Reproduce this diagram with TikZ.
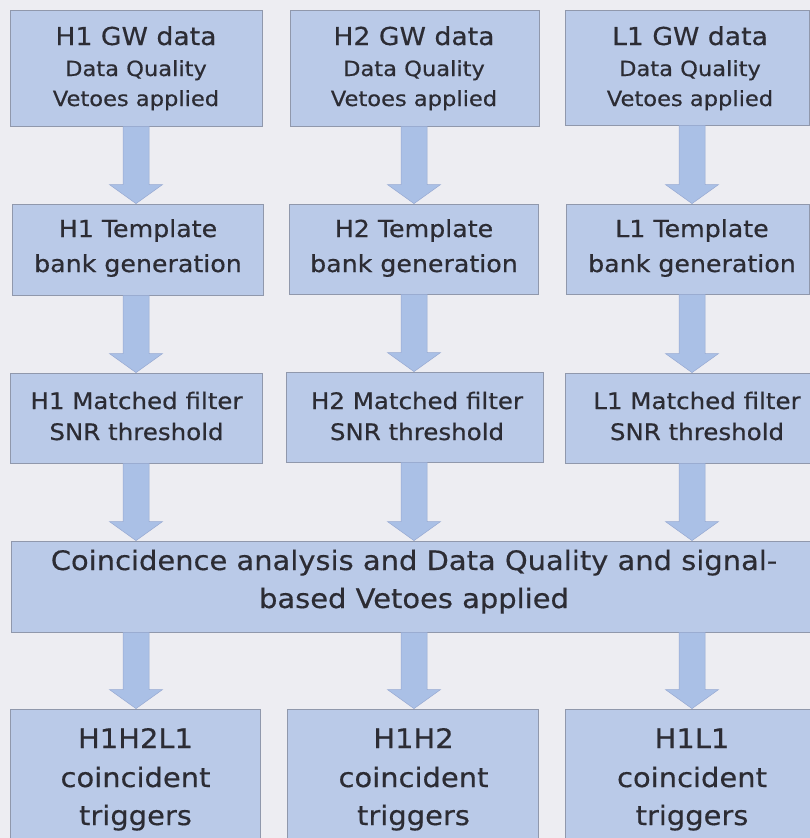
\documentclass[tikz,border=0pt]{standalone}
\usepackage{fontspec}
\setmainfont[FakeStretch=1.08,FakeBold=0.5]{DejaVu Sans}
\usetikzlibrary{calc}
\definecolor{bgcol}{HTML}{EDEDF2}
\definecolor{boxfill}{HTML}{BACAE8}
\definecolor{boxline}{HTML}{9098AC}
\definecolor{arrfill}{HTML}{AAC0E6}
\definecolor{arrline}{HTML}{97A9D2}
\definecolor{txtcol}{HTML}{2C2C34}
\tikzset{
  box/.style={rectangle, draw=boxline, fill=boxfill, line width=0.8pt, inner sep=0pt},
  ttl/.style={anchor=base, inner sep=0pt, text=txtcol, font=\fontsize{24.7}{28}\selectfont},
  dql/.style={anchor=base, inner sep=0pt, text=txtcol, font=\fontsize{20.9}{24}\selectfont},
  tpl/.style={anchor=base, inner sep=0pt, text=txtcol, font=\fontsize{23.4}{26}\selectfont},
  mfl/.style={anchor=base, inner sep=0pt, text=txtcol, font=\fontsize{22.7}{24}\selectfont},
  bgl/.style={anchor=base, inner sep=0pt, text=txtcol, font=\fontsize{26.8}{30}\selectfont},
  bigarrow/.style={fill=arrfill, draw=arrline, line width=0.5pt, line join=miter}
}
\newcommand\flowarrow[2]{%
  \path[bigarrow] let \p1=(#1), \p2=(#2) in
    (\x1-13pt,\y1) -- (\x1+13pt,\y1) -- (\x1+13pt,\y2+19pt) -- (\x1+26.5pt,\y2+19pt)
    -- (\x1,\y2) -- (\x1-26.5pt,\y2+19pt) -- (\x1-13pt,\y2+19pt) -- cycle;}
\begin{document}
\begin{tikzpicture}[x=1pt,y=1pt]
\useasboundingbox (0,0) rectangle (810,-838);
\clip (0,0) rectangle (810,-838);
\fill[bgcol] (0,0) rectangle (810,-838);
% column coordinates
\coordinate (c1) at (136,0);
\coordinate (c2) at (414,0);
\coordinate (c3) at (692,0);
% row 1
\node[box, minimum width=252, minimum height=116] (h1d) at (136,-68) {};
\node[box, minimum width=249, minimum height=116] (h2d) at (414.5,-68) {};
\node[box, minimum width=244, minimum height=115] (l1d) at (687,-67.5) {};
% row 2
\node[box, minimum width=251, minimum height=91] (h1t) at (137.5,-249.5) {};
\node[box, minimum width=249, minimum height=90] (h2t) at (413.5,-249) {};
\node[box, minimum width=243, minimum height=90] (l1t) at (687.5,-249) {};
% row 3
\node[box, minimum width=252, minimum height=90] (h1m) at (136,-418) {};
\node[box, minimum width=257, minimum height=90] (h2m) at (414.5,-417) {};
\node[box, minimum width=250, minimum height=90] (l1m) at (690,-418) {};
% coincidence
\node[box, minimum width=807, minimum height=91] (coin) at (414.5,-586.5) {};
% bottom
\node[box, minimum width=250, minimum height=141] (b1) at (135,-779.5) {};
\node[box, minimum width=251, minimum height=141] (b2) at (412.5,-779.5) {};
\node[box, minimum width=250, minimum height=141] (b3) at (690,-779.5) {};

% texts row 1
\node[ttl] (h1d-a) at (136,-45) {H1 GW data};
\node[dql] (h1d-b) at (136,-76) {Data Quality};
\node[dql] (h1d-c) at (136,-106) {Vetoes applied};
\node[ttl] (h2d-a) at (414,-45) {H2 GW data};
\node[dql] (h2d-b) at (414,-76) {Data Quality};
\node[dql] (h2d-c) at (414,-106) {Vetoes applied};
\node[ttl] (l1d-a) at (690,-45) {L1 GW data};
\node[dql] (l1d-b) at (690,-76) {Data Quality};
\node[dql] (l1d-c) at (690,-106) {Vetoes applied};
% texts row 2
\node[tpl] (h1t-a) at (138,-237) {H1 Template};
\node[tpl] (h1t-b) at (138,-272) {bank generation};
\node[tpl] (h2t-a) at (414,-237) {H2 Template};
\node[tpl] (h2t-b) at (414,-272) {bank generation};
\node[tpl] (l1t-a) at (692,-237) {L1 Template};
\node[tpl] (l1t-b) at (692,-272) {bank generation};
% texts row 3
\node[mfl] (h1m-a) at (136.5,-409) {H1 Matched filter};
\node[mfl] (h1m-b) at (136.5,-440) {SNR threshold};
\node[mfl] (h2m-a) at (417,-409) {H2 Matched filter};
\node[mfl] (h2m-b) at (417,-440) {SNR threshold};
\node[mfl] (l1m-a) at (697,-409) {L1 Matched filter};
\node[mfl] (l1m-b) at (697,-440) {SNR threshold};
% coincidence text
\node[bgl] (coin-a) at (414,-570) {Coincidence analysis and Data Quality and signal-};
\node[bgl] (coin-b) at (414,-608) {based Vetoes applied};
% bottom texts
\node[bgl] (b1-a) at (135.5,-748) {H1H2L1};
\node[bgl] (b1-b) at (135.5,-787) {coincident};
\node[bgl] (b1-c) at (135.5,-825) {triggers};
\node[bgl] (b2-a) at (413.5,-748) {H1H2};
\node[bgl] (b2-b) at (413.5,-787) {coincident};
\node[bgl] (b2-c) at (413.5,-825) {triggers};
\node[bgl] (b3-a) at (692,-748) {H1L1};
\node[bgl] (b3-b) at (692,-787) {coincident};
\node[bgl] (b3-c) at (692,-825) {triggers};

% arrows
\flowarrow{h1d.south -| c1}{h1t.north -| c1}
\flowarrow{h2d.south -| c2}{h2t.north -| c2}
\flowarrow{l1d.south -| c3}{l1t.north -| c3}
\flowarrow{h1t.south -| c1}{h1m.north -| c1}
\flowarrow{h2t.south -| c2}{h2m.north -| c2}
\flowarrow{l1t.south -| c3}{l1m.north -| c3}
\flowarrow{h1m.south -| c1}{coin.north -| c1}
\flowarrow{h2m.south -| c2}{coin.north -| c2}
\flowarrow{l1m.south -| c3}{coin.north -| c3}
\flowarrow{coin.south -| c1}{b1.north -| c1}
\flowarrow{coin.south -| c2}{b2.north -| c2}
\flowarrow{coin.south -| c3}{b3.north -| c3}
\end{tikzpicture}
\end{document}
